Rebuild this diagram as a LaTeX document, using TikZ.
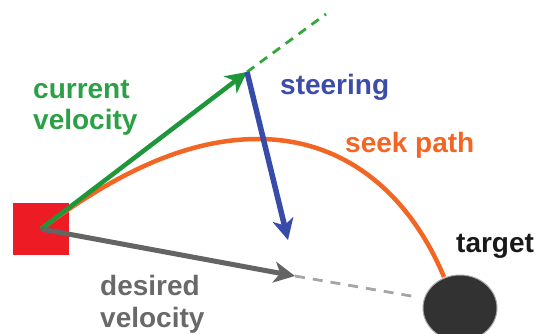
\documentclass[tikz,border=0pt]{standalone}
\usepackage{fontspec}
\setmainfont{Liberation Sans}
\usetikzlibrary{arrows.meta,shapes.geometric}
\definecolor{agentred}{RGB}{237,28,36}
\definecolor{garrow}{RGB}{30,150,58}
\definecolor{gtext}{RGB}{44,160,70}
\definecolor{gdash}{RGB}{50,168,60}
\definecolor{barrow}{RGB}{55,75,168}
\definecolor{btext}{RGB}{60,76,168}
\definecolor{oranges}{RGB}{242,101,34}
\definecolor{grayarr}{RGB}{100,100,100}
\definecolor{graydsh}{RGB}{165,165,165}
\definecolor{graytxt}{RGB}{105,105,105}
\definecolor{tgtfill}{RGB}{50,50,50}
\tikzset{
  lbl/.style={font=\fontsize{28}{30}\selectfont\bfseries, inner sep=0pt, anchor=base west},
  headtip/.style={-{Stealth[length=21pt,width=21pt,inset=6pt]}},
  greenarrow/.style={draw=garrow, line width=4.5pt, headtip},
  bluearrow/.style={draw=barrow, line width=5.5pt, headtip},
  grayarrow/.style={draw=grayarr, line width=5pt, headtip},
  greendash/.style={draw=gdash, line width=2.8pt, dash pattern=on 9pt off 7pt},
  graydashline/.style={draw=graydsh, line width=2.8pt, dash pattern=on 10pt off 8pt},
  seekpath/.style={draw=oranges, line width=4.5pt},
}
\begin{document}
\begin{tikzpicture}[x=1pt,y=-1pt]
\useasboundingbox (0,0) rectangle (538,334);
\clip (0,0) rectangle (538,334);
% agent and target
\node[fill=agentred, minimum width=56pt, minimum height=52pt, inner sep=0pt] (agent) at (41,229) {};
\node[ellipse, fill=tgtfill, draw=gray!70, line width=1pt, minimum width=74pt, minimum height=66pt, inner sep=0pt] (target) at (460,308) {};
\coordinate (pathend) at (444,277);
\coordinate (gtip) at (247,72);
\coordinate (gend) at (326,14);
\coordinate (btip) at (288,240);
\coordinate (dtip) at (295,276);
\coordinate (dend) at (417,297);
% seek path
\draw[seekpath] (agent.center) .. controls (120,170) and (190,139) .. (258,139)
   .. controls (350,139) and (412,200) .. (pathend);
% vectors
\draw[greendash] (gtip) -- (gend);
\draw[greenarrow] (agent.center) -- (gtip);
\draw[graydashline] (dtip) -- (dend);
\draw[grayarrow] (agent.center) -- (dtip);
\draw[bluearrow] (gtip) -- (btip);
% labels
\node[lbl, text=gtext] (cv1) at (33,99) {current};
\node[lbl, text=gtext] (cv2) at (33,130) {velocity};
\node[lbl, text=btext] (steer) at (280,95) {steering};
\node[lbl, text=oranges] (seek) at (345,153) {seek path};
\node[lbl, text=black!90] (tgt) at (456,252) {target};
\node[lbl, text=graytxt] (dv1) at (100,295) {desired};
\node[lbl, text=graytxt] (dv2) at (100,327) {velocity};
\end{tikzpicture}
\end{document}
